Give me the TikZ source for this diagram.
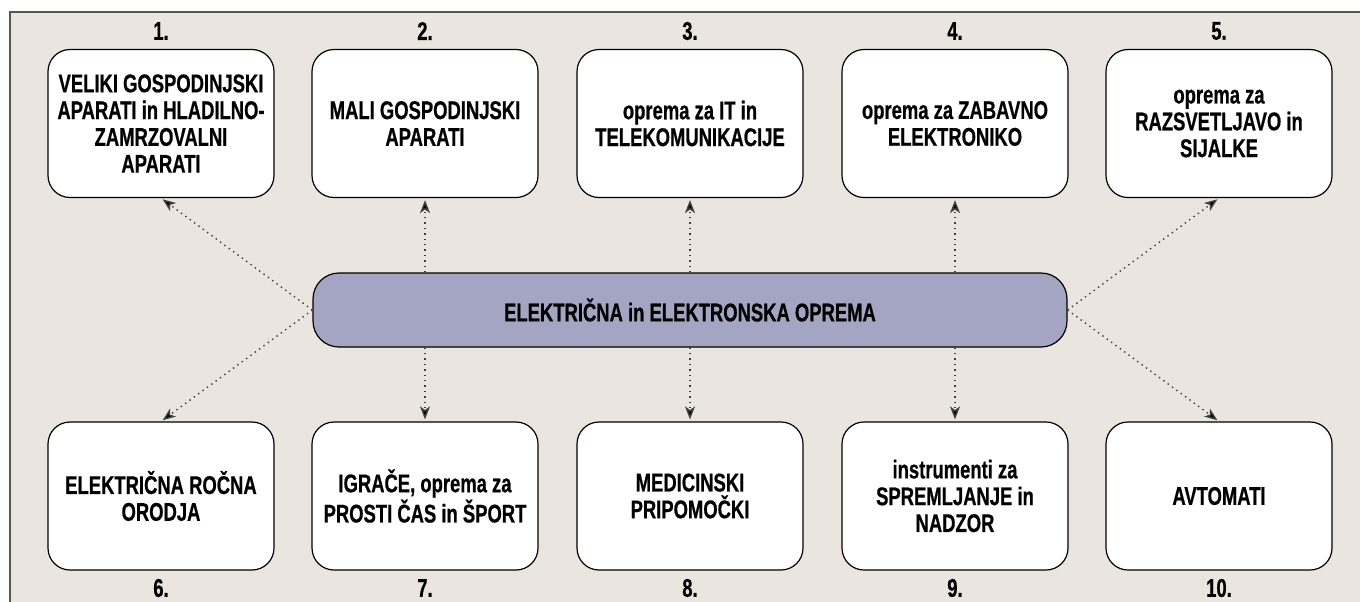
\documentclass[tikz,border=0pt]{standalone}
\usepackage{fontspec}
\setmainfont{Liberation Sans}[FakeStretch=0.72, BoldFeatures={FakeBold=0.6}]
\usetikzlibrary{arrows.meta}
\definecolor{bgbeige}{RGB}{234,230,223}
\definecolor{framegray}{RGB}{85,85,85}
\definecolor{mainblue}{RGB}{164,165,194}
\tikzset{
  boxfont/.style={font=\fontsize{12.8pt}{13.4pt}\selectfont\bfseries},
  catbox/.style={boxfont, draw=black, line width=0.6pt, fill=white, rounded corners=11pt,
    minimum width=113pt, minimum height=74pt, align=center, inner sep=2pt},
  mainbox/.style={boxfont, draw=black, line width=0.6pt, fill=mainblue, rounded corners=13pt,
    minimum width=377pt, minimum height=37pt, align=center},
  numlabel/.style={boxfont, inner sep=0pt},
  link/.style={dotted, line width=0.7pt, draw=black!75,
    -{Stealth[length=6.5pt,width=5pt,inset=1.8pt,fill=black]}, shorten >=1pt}
}
\begin{document}
\begin{tikzpicture}[x=0.5pt,y=-0.5pt]
\useasboundingbox (0,0) rectangle (1360,601);
\fill[white] (0,0) rectangle (1360,601);
\fill[bgbeige] (10,12) rectangle (1362,603);
\draw[framegray, line width=0.6pt] (10,603) -- (10,12) -- (1362,12);

\node[mainbox] (c) at (690,310) {ELEKTRIČNA in ELEKTRONSKA OPREMA};

\node[catbox] (b1) at (161,123.5) {VELIKI GOSPODINJSKI\\APARATI in HLADILNO-\\ZAMRZOVALNI\\APARATI};
\node[catbox] (b2) at (425,123.5) {MALI GOSPODINJSKI\\APARATI};
\node[catbox] (b3) at (690,123.5) {oprema za IT in\\TELEKOMUNIKACIJE};
\node[catbox] (b4) at (955,123.5) {oprema za ZABAVNO\\ELEKTRONIKO};
\node[catbox] (b5) at (1219,123.5) {oprema za\\RAZSVETLJAVO in\\SIJALKE};

\node[catbox] (b6) at (161,496) {ELEKTRIČNA ROČNA\\ORODJA};
\node[catbox] (b7) at (425,496) {IGRAČE, oprema za\\PROSTI ČAS in ŠPORT};
\node[catbox] (b8) at (690,496) {MEDICINSKI\\PRIPOMOČKI};
\node[catbox] (b9) at (955,496) {instrumenti za\\SPREMLJANJE in\\NADZOR};
\node[catbox] (b10) at (1219,496) {AVTOMATI};

\node[numlabel] (n1) at (161,31) {1.};
\node[numlabel] (n2) at (425,31) {2.};
\node[numlabel] (n3) at (690,31) {3.};
\node[numlabel] (n4) at (955,31) {4.};
\node[numlabel] (n5) at (1219,31) {5.};
\node[numlabel] (n6) at (161,588) {6.};
\node[numlabel] (n7) at (425,588) {7.};
\node[numlabel] (n8) at (690,588) {8.};
\node[numlabel] (n9) at (955,588) {9.};
\node[numlabel] (n10) at (1219,588) {10.};

\draw[link] (c.west) -- (b1.south);
\draw[link] (c.north -| b2.south) -- (b2.south);
\draw[link] (c.north) -- (b3.south);
\draw[link] (c.north -| b4.south) -- (b4.south);
\draw[link] (c.east) -- (b5.south);
\draw[link] (c.west) -- (b6.north);
\draw[link] (c.south -| b7.north) -- (b7.north);
\draw[link] (c.south) -- (b8.north);
\draw[link] (c.south -| b9.north) -- (b9.north);
\draw[link] (c.east) -- (b10.north);
\end{tikzpicture}
\end{document}
